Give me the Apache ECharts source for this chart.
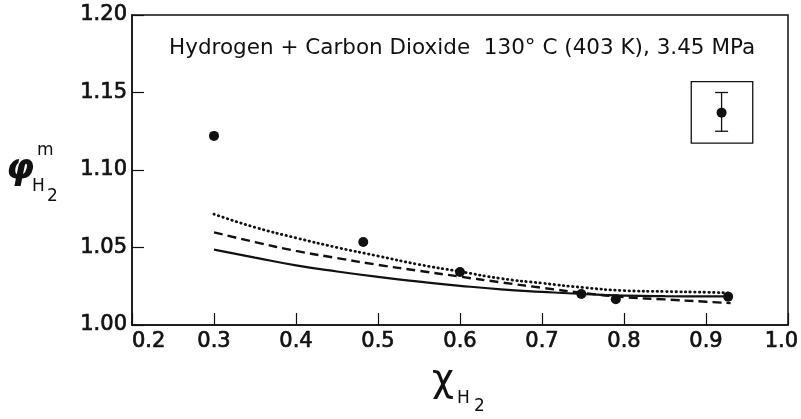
<!DOCTYPE html>
<html><head><meta charset="utf-8">
<script src="https://cdn.jsdelivr.net/npm/echarts@6/dist/echarts.min.js"></script>
<style>html,body{margin:0;padding:0;background:#fff}#c{width:801px;height:419px}</style>
</head><body><div id="c"></div>
<script>
// ---- data ----
var xTicks = [0.2, 0.3, 0.4, 0.5, 0.6, 0.7, 0.8, 0.9, 1.0];
var yTicks = [1.00, 1.05, 1.10, 1.15, 1.20];
var measX = [0.30, 0.482, 0.60, 0.748, 0.79, 0.927];
var measY = [1.122, 1.0535, 1.0342, 1.0200, 1.0166, 1.0183];
var curveX = [0.30, 0.35, 0.40, 0.45, 0.50, 0.55, 0.60, 0.65, 0.70, 0.75, 0.80, 0.85, 0.90, 0.93];
var dottedY = [1.0715, 1.0630, 1.0562, 1.0500, 1.0445, 1.0390, 1.0345, 1.0300, 1.0270, 1.0242, 1.0222, 1.0216, 1.0211, 1.0207];
var dashedY = [1.0598, 1.0535, 1.0478, 1.0432, 1.0388, 1.0350, 1.0312, 1.0275, 1.0240, 1.0207, 1.0180, 1.0165, 1.0150, 1.0141];
var solidY  = [1.0486, 1.0435, 1.0385, 1.0345, 1.0310, 1.0280, 1.0253, 1.0230, 1.0214, 1.0200, 1.0190, 1.0186, 1.0185, 1.0185];
var keyBoxX = [0.882, 0.957];
var keyBoxY = [1.1174, 1.157];
var keyBarX = [0.919];
var keyBarY = [1.137];
var keyBarLo = [1.125];
var keyBarHi = [1.150];
var titleText = 'Hydrogen + Carbon Dioxide  130° C (403 K), 3.45 MPa';

function zip(a, b) { return a.map(function (v, i) { return [v, b[i]]; }); }

var FONT = '"DejaVu Sans", "Liberation Sans", sans-serif';
var INK = '#111';
var chart = echarts.init(document.getElementById('c'), null, {renderer: 'canvas'});
chart.setOption({
  animation: false,
  backgroundColor: '#fff',
  grid: {left: 132, right: 13, top: 15, bottom: 94, containLabel: false, outerBoundsMode: 'none',
    show: true, borderColor: INK, borderWidth: 1.5, backgroundColor: 'transparent'},
  xAxis: {
    type: 'value', min: xTicks[0], max: xTicks[xTicks.length - 1], interval: 0.1,
    axisLine: {show: true, lineStyle: {color: INK, width: 1.5}},
    axisTick: {show: true, inside: true, length: 12, lineStyle: {color: INK, width: 1.2}},
    splitLine: {show: false},
    axisLabel: {fontFamily: FONT, fontSize: 21, color: INK, margin: 6,
      textBorderColor: INK, textBorderWidth: 0.7,
      alignMinLabel: 'left', alignMaxLabel: 'center',
      formatter: function (v) {
        var s = v.toFixed(1);
        return v >= 0.999 ? s + '\u00a0\u00a0' : s;
      }}
  },
  yAxis: {
    type: 'value', min: yTicks[0], max: yTicks[yTicks.length - 1], interval: 0.05,
    axisLine: {show: true, lineStyle: {color: INK, width: 1.5}},
    axisTick: {show: true, inside: true, length: 12, lineStyle: {color: INK, width: 1.2}},
    splitLine: {show: false},
    axisLabel: {fontFamily: FONT, fontSize: 21, color: INK, margin: 5,
      textBorderColor: INK, textBorderWidth: 0.7,
      formatter: function (v) { return v.toFixed(2); }}
  },
  graphic: [
    {type: 'text', left: 169, top: 37, style: {text: titleText, fontFamily: FONT, fontSize: 21.5, fill: INK}},
    {type: 'text', left: 6, top: 152, style: {text: 'φ', fontFamily: '"DejaVu Sans", sans-serif', fontStyle: 'italic', fontWeight: 'bold', fontSize: 36, fill: INK}},
    {type: 'text', left: 37, top: 142, style: {text: 'm', fontFamily: FONT, fontSize: 17, fill: INK}},
    {type: 'text', left: 32, top: 178, style: {text: 'H', fontFamily: FONT, fontSize: 17, fill: INK}},
    {type: 'text', left: 47, top: 188, style: {text: '2', fontFamily: FONT, fontSize: 17, fill: INK}},
    {type: 'text', left: 432, top: 362, style: {text: 'χ', fontFamily: '"DejaVu Sans", sans-serif', fontSize: 38, fill: INK}},
    {type: 'text', left: 457, top: 390, style: {text: 'H', fontFamily: FONT, fontSize: 17, fill: INK}},
    {type: 'text', left: 474, top: 398, style: {text: '2', fontFamily: FONT, fontSize: 17, fill: INK}}
  ],
  series: [
    {type: 'line', data: zip(curveX, dottedY), smooth: true, showSymbol: false,
      lineStyle: {color: INK, width: 2.8, type: [0.5, 4.2], cap: 'round'}},
    {type: 'line', data: zip(curveX, dashedY), smooth: true, showSymbol: false,
      lineStyle: {color: INK, width: 2.4, type: [9, 5]}},
    {type: 'line', data: zip(curveX, solidY), smooth: true, showSymbol: false,
      lineStyle: {color: INK, width: 2.2}},
    {type: 'scatter', data: zip(measX, measY), symbol: 'circle', symbolSize: 10,
      itemStyle: {color: INK, opacity: 1}},
    {type: 'custom', data: [[keyBarX[0], keyBarY[0], keyBarLo[0], keyBarHi[0]]],
      renderItem: function (params, api) {
        var b0 = api.coord([keyBoxX[0], keyBoxY[1]]);
        var b1 = api.coord([keyBoxX[1], keyBoxY[0]]);
        var c = api.coord([api.value(0), api.value(1)]);
        var lo = api.coord([api.value(0), api.value(2)]);
        var hi = api.coord([api.value(0), api.value(3)]);
        var st = {stroke: INK, lineWidth: 1.3, fill: null};
        return {type: 'group', children: [
          {type: 'rect', shape: {x: b0[0], y: b0[1], width: b1[0] - b0[0], height: b1[1] - b0[1]}, style: st},
          {type: 'line', shape: {x1: lo[0], y1: lo[1], x2: hi[0], y2: hi[1]}, style: st},
          {type: 'line', shape: {x1: lo[0] - 6.5, y1: lo[1], x2: lo[0] + 6.5, y2: lo[1]}, style: st},
          {type: 'line', shape: {x1: hi[0] - 6.5, y1: hi[1], x2: hi[0] + 6.5, y2: hi[1]}, style: st},
          {type: 'circle', shape: {cx: c[0], cy: c[1], r: 5}, style: {fill: INK}}
        ]};
      }}
  ]
});
</script></body></html>
